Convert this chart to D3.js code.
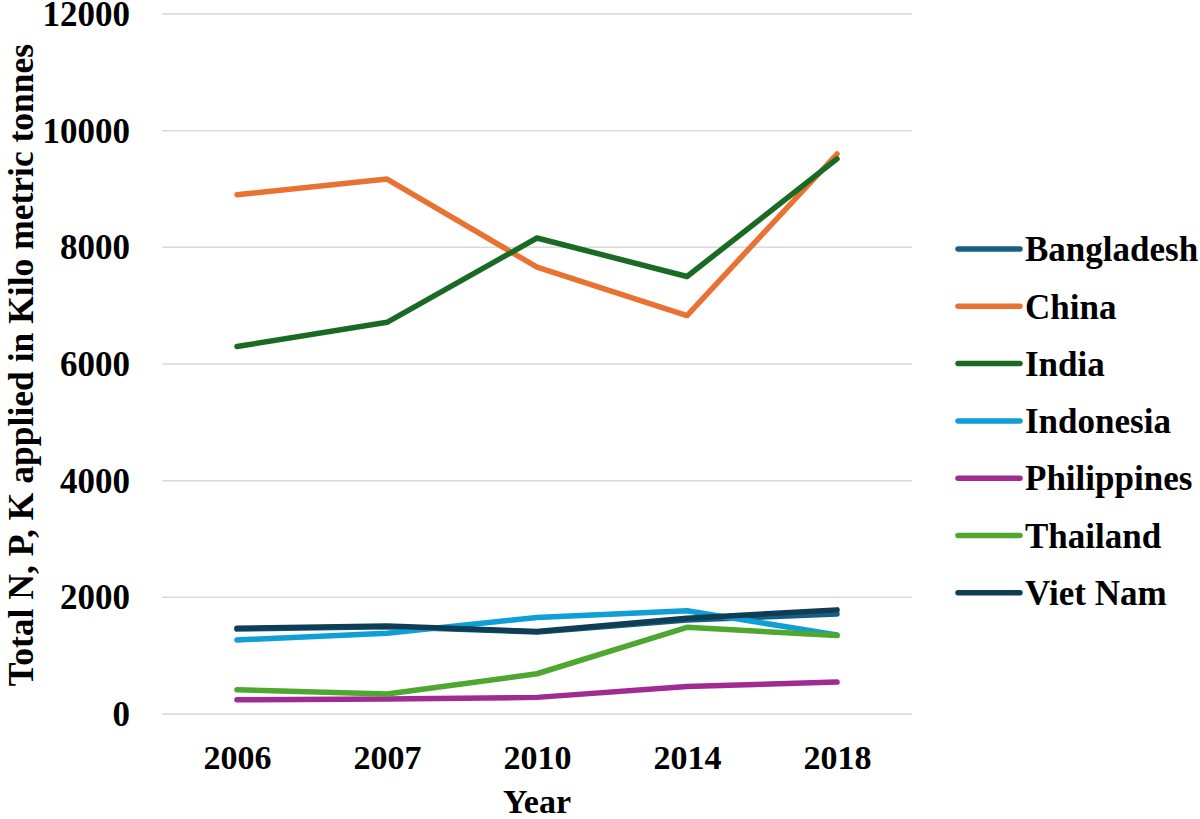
<!DOCTYPE html>
<html>
<head>
<meta charset="utf-8">
<script src="https://cdn.jsdelivr.net/npm/d3@7"></script>
<style>
  body { margin: 0; background: #fff; }
  text { font-family: "Liberation Serif", "Times New Roman", serif; font-weight: bold; fill: #000; }
</style>
</head>
<body>
<svg id="chart"></svg>
<script>
// years on the x axis (categorical)
var years = ['2006', '2007', '2010', '2014', '2018'];

// series (kilo metric tonnes)
var countries = ['Bangladesh', 'China', 'India', 'Indonesia', 'Philippines', 'Thailand', 'Viet Nam'];
var bangladesh  = [1455, 1495, 1405, 1610, 1715];
var china       = [8900, 9170, 7660, 6830, 9600];
var india       = [6300, 6715, 8160, 7500, 9515];
var indonesia   = [1270, 1385, 1655, 1770, 1355];
var philippines = [245, 256, 285, 473, 547];
var thailand    = [416, 342, 690, 1487, 1345];
var vietNam     = [1470, 1510, 1415, 1640, 1785];

var yTicks = [0, 2000, 4000, 6000, 8000, 10000, 12000];
var colors = ['#156082', '#E97132', '#196B24', '#0F9ED5', '#A02B93', '#4EA72E', '#0E3D55'];

var seriesValues = [bangladesh, china, india, indonesia, philippines, thailand, vietNam];
var series = countries.map(function(name, i) {
    return {name: name, color: colors[i], values: seriesValues[i]};
});

var width = 1200,
    height = 819,
    plot = {left: 162, right: 912, top: 14, bottom: 714};

var svg = d3.select('#chart')
    .attr('width', width)
    .attr('height', height);

var x = d3.scalePoint()
    .domain(years)
    .range([plot.left, plot.right])
    .padding(0.5);

var y = d3.scaleLinear()
    .domain([0, 12000])
    .range([plot.bottom, plot.top]);

// gridlines
svg.append('g')
    .attr('class', 'grid')
    .selectAll('line')
    .data(yTicks)
    .join('line')
    .attr('x1', plot.left)
    .attr('x2', plot.right)
    .attr('y1', function(d) {return y(d);})
    .attr('y2', function(d) {return y(d);})
    .attr('stroke', '#d9d9d9')
    .attr('stroke-width', 1.5);

// y axis labels
var yAxis = svg.append('g')
    .attr('transform', 'translate(130,0)')
    .call(d3.axisLeft(y).tickValues(yTicks).tickSize(0).tickPadding(0).tickFormat(d3.format('d')));
yAxis.select('.domain').remove();
yAxis.selectAll('text')
    .attr('font-size', '35px')
    .attr('dy', '0.33em')
    .style('font-family', '"Liberation Serif", serif')
    .style('font-weight', 'bold');

// x axis labels
var xAxis = svg.append('g')
    .attr('transform', 'translate(0,' + plot.bottom + ')')
    .call(d3.axisBottom(x).tickSize(0).tickPadding(0));
xAxis.select('.domain').remove();
xAxis.selectAll('text')
    .attr('font-size', '34px')
    .attr('y', 55)
    .attr('dy', 0)
    .style('font-family', '"Liberation Serif", serif')
    .style('font-weight', 'bold');

// axis titles
svg.append('text')
    .text('Year')
    .attr('x', (plot.left + plot.right) / 2)
    .attr('y', 813)
    .attr('text-anchor', 'middle')
    .attr('font-size', '34px');

svg.append('text')
    .text('Total N, P, K applied in Kilo metric tonnes')
    .attr('transform', 'translate(33,365) rotate(-90)')
    .attr('text-anchor', 'middle')
    .attr('font-size', '35.5px');

// lines
var line = d3.line()
    .x(function(d, i) {return x(years[i]);})
    .y(function(d) {return y(d);});

svg.append('g')
    .attr('class', 'lines')
    .selectAll('path')
    .data(series)
    .join('path')
    .attr('d', function(d) {return line(d.values);})
    .attr('fill', 'none')
    .attr('stroke', function(d) {return d.color;})
    .attr('stroke-width', 5.5)
    .attr('stroke-linecap', 'round')
    .attr('stroke-linejoin', 'round');

// legend
var legend = svg.append('g')
    .attr('class', 'legend')
    .selectAll('g')
    .data(series)
    .join('g')
    .attr('transform', function(d, i) {return 'translate(958,' + (249 + i * 57.3) + ')';});

legend.append('line')
    .attr('x1', 0)
    .attr('x2', 62)
    .attr('stroke', function(d) {return d.color;})
    .attr('stroke-width', 5.5)
    .attr('stroke-linecap', 'round');

legend.append('text')
    .text(function(d) {return d.name;})
    .attr('x', 67)
    .attr('dy', '0.35em')
    .attr('font-size', '35px');
</script>
</body>
</html>
